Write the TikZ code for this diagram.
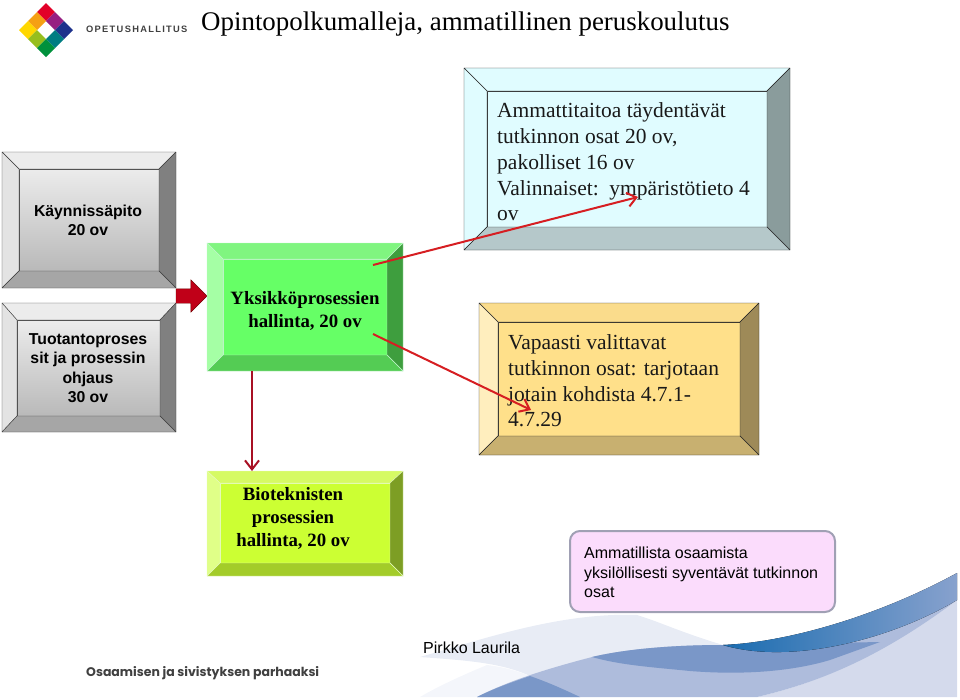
\documentclass[tikz,border=0pt]{standalone}
\usepackage{fontspec}
\setmainfont{Liberation Serif}
\setsansfont{Liberation Sans}
\newfontfamily\logofont[LetterSpace=14]{Liberation Sans}
\newfontfamily\iskufont{Poppins}
\usepackage{tikz}
\usetikzlibrary{arrows.meta,shapes.arrows}
\definecolor{punainen}{RGB}{214,30,34}
\definecolor{tummapun}{RGB}{168,16,36}
\definecolor{lohko}{RGB}{192,0,24}
\definecolor{aalto}{RGB}{122,151,200}
\definecolor{aaltotumma}{RGB}{26,108,176}
\definecolor{aaltovaalea}{RGB}{174,188,220}
\definecolor{aaltohaalea}{RGB}{212,218,236}
\definecolor{aaltopale}{RGB}{232,236,245}
\definecolor{aaltoutu}{RGB}{244,246,251}
\definecolor{vihsis}{RGB}{102,255,102}
\definecolor{vihyla}{RGB}{128,245,128}
\definecolor{vihvas}{RGB}{165,255,165}
\definecolor{vihoik}{RGB}{62,158,62}
\definecolor{vihala}{RGB}{84,204,84}
\definecolor{vihreuna}{RGB}{190,245,200}
\definecolor{limsis}{RGB}{204,255,51}
\definecolor{limyla}{RGB}{214,250,100}
\definecolor{limvas}{RGB}{224,255,136}
\definecolor{limoik}{RGB}{125,158,36}
\definecolor{limala}{RGB}{163,204,41}
\definecolor{limreuna}{RGB}{230,250,190}
\definecolor{syasis}{RGB}{224,252,255}
\definecolor{syaoik}{RGB}{138,156,156}
\definecolor{syaala}{RGB}{181,200,202}
\definecolor{kelsis}{RGB}{255,224,138}
\definecolor{kelyla}{RGB}{250,220,140}
\definecolor{kelvas}{RGB}{255,238,190}
\definecolor{keloik}{RGB}{158,138,88}
\definecolor{kelala}{RGB}{200,176,112}
\definecolor{omapohja}{RGB}{251,220,252}
\definecolor{omareuna}{RGB}{160,160,180}
\newcommand{\viisteet}[7]{
  \filldraw[draw=#7, fill=#3, line join=round] (#1.north west) -- (#1.north east) -- (#2.north east) -- (#2.north west) -- cycle;
  \filldraw[draw=#7, fill=#4, line join=round] (#1.north west) -- (#1.south west) -- (#2.south west) -- (#2.north west) -- cycle;
  \filldraw[draw=#7, fill=#5, line join=round] (#1.north east) -- (#1.south east) -- (#2.south east) -- (#2.north east) -- cycle;
  \filldraw[draw=#7, fill=#6, line join=round] (#1.south west) -- (#1.south east) -- (#2.south east) -- (#2.south west) -- cycle;
}
\begin{document}
\begin{tikzpicture}[x=1pt, y=-1pt,
  laatta/.style={rectangle, inner sep=0pt, outer sep=0pt},
  harmaa/.style={laatta, draw=black!75, line width=1pt, top color=gray!15, bottom color=gray!55},
  vihrea/.style={laatta, draw=vihreuna, line width=1pt, fill=vihsis},
  lime/.style={laatta, draw=limreuna, line width=1pt, fill=limsis},
  syaani/.style={laatta, draw=black!85, line width=1pt, fill=syasis},
  kelta/.style={laatta, draw=black!85, line width=1pt, fill=kelsis},
  otsikko/.style={font=\fontsize{26.9}{30}\selectfont, anchor=west, inner sep=0pt},
  arial/.style={font=\sffamily\bfseries\fontsize{15.8}{19.3}\selectfont, align=center, inner sep=0pt},
  times/.style={font=\bfseries\fontsize{18.8}{22.8}\selectfont, align=center, inner sep=0pt},
  leipa/.style={font=\fontsize{21.5}{25.7}\selectfont, align=left, anchor=west, inner sep=0pt, text=black!90},
  huomio/.style={rectangle, rounded corners=10pt, draw=omareuna, line width=2pt, fill=omapohja,
                 minimum width=265pt, minimum height=81pt},
  huomioteksti/.style={font=\sffamily\fontsize{16}{19.5}\selectfont, align=left, anchor=west, inner sep=0pt},
  nuoli/.style={-{Straight Barb[length=9pt,width=14pt]}, line width=2pt, color=punainen},
  nuolialas/.style={-{Straight Barb[length=9pt,width=14pt]}, line width=2pt, color=tummapun}]
  \useasboundingbox (0,0) rectangle (960,699);

  \fill[aaltopale] (420,657) .. controls (480,640) and (560,612) .. (637,615) .. controls (660,622) and (680,632) .. (723,645) -- (592,657) -- (530,676) .. controls (500,662) and (460,660) .. (420,657) -- cycle;
  \fill[aaltoutu] (420,697) .. controls (440,685) and (470,672) .. (487,665) .. controls (505,667) and (520,672) .. (530,676) -- (477,697) -- cycle;
  \fill[aaltohaalea] (757,697) .. controls (830,680) and (890,650) .. (957,590) -- (957,697) -- cycle;
  \fill[aaltovaalea] (477,697) .. controls (510,680) and (550,668) .. (592,657) .. controls (630,648) and (680,645) .. (723,645) .. controls (790,642) and (880,640) .. (957,600) .. controls (890,650) and (830,680) .. (757,697) -- cycle;
  \fill[aalto] (477,697) .. controls (495,688) and (510,683) .. (530,676) .. controls (550,683) and (565,690) .. (580,697) -- cycle;
  \fill[aalto] (592,657) .. controls (630,648) and (680,645) .. (723,645) -- (880,642) -- (830,660) .. controls (790,672) and (740,675) .. (690,671) .. controls (650,667) and (620,665) .. (592,657) -- cycle;
  \fill[left color=aaltotumma, right color=aalto!90!white, shading angle=90] (723,645) .. controls (790,642) and (880,615) .. (957,573) -- (957,600) .. controls (890,640) and (790,665) .. (723,645) -- cycle;

  \foreach \ruutu/\vari in {0/{rgb,255:red,226;green,0;blue,40}, 9/{rgb,255:red,150;green,30;blue,130}, 18/{rgb,255:red,30;green,50;blue,140}}
    \fill[fill=\vari] (46+\ruutu,3+\ruutu) -- (55+\ruutu,12+\ruutu) -- (46+\ruutu,21+\ruutu) -- (37+\ruutu,12+\ruutu) -- cycle;
  \foreach \ruutu/\vari in {0/{rgb,255:red,245;green,160;blue,20}, 18/{rgb,255:red,0;green,125;blue,130}}
    \fill[fill=\vari] (37+\ruutu,12+\ruutu) -- (46+\ruutu,21+\ruutu) -- (37+\ruutu,30+\ruutu) -- (28+\ruutu,21+\ruutu) -- cycle;
  \foreach \ruutu/\vari in {0/{rgb,255:red,255;green,215;blue,0}, 9/{rgb,255:red,150;green,190;blue,30}, 18/{rgb,255:red,0;green,145;blue,60}}
    \fill[fill=\vari] (28+\ruutu,21+\ruutu) -- (37+\ruutu,30+\ruutu) -- (28+\ruutu,39+\ruutu) -- (19+\ruutu,30+\ruutu) -- cycle;
  \node[anchor=west, inner sep=0pt, font=\logofont\bfseries\fontsize{9.3}{10}\selectfont, text=black!75] (virasto) at (86,29) {OPETUSHALLITUS};
  \node[anchor=west, inner sep=0pt, font=\iskufont\bfseries\fontsize{12.5}{14}\selectfont, text=black!75] (isku) at (86,673) {Osaamisen ja sivistyksen parhaaksi};
  \node[otsikko] (otsikko) at (201,24) {Opintopolkumalleja, ammatillinen peruskoulutus};

  \node[laatta, minimum width=174pt, minimum height=136pt] (kay) at (89,220) {};
  \node[harmaa, minimum width=140pt, minimum height=102pt] (kaysis) at (89,220) {};
  \viisteet{kay}{kaysis}{gray!15}{gray!22}{gray!100}{gray!70}{black!75}
  \node[arial] (kayteksti) at (88,220.5) {Käynnissäpito\\20 ov};

  \node[laatta, minimum width=174pt, minimum height=129pt] (tuo) at (89,367.5) {};
  \node[harmaa, minimum width=143pt, minimum height=96pt] (tuosis) at (88.5,368) {};
  \viisteet{tuo}{tuosis}{gray!15}{gray!22}{gray!100}{gray!70}{black!75}
  \node[arial] (tuoteksti) at (88,368) {Tuotantoproses\\sit ja prosessin\\ohjaus\\30 ov};

  \node[single arrow, fill=lohko, draw=red!45!black, inner xsep=0pt, inner ysep=7pt, outer sep=0pt, minimum height=31pt,
        single arrow head extend=9pt, single arrow head indent=0pt, anchor=tip] (siirto) at (207,296) {};

  \node[laatta, minimum width=196pt, minimum height=128pt] (yks) at (305,307) {};
  \node[vihrea, minimum width=164pt, minimum height=96pt] (yksis) at (305,307) {};
  \viisteet{yks}{yksis}{vihyla}{vihvas}{vihoik}{vihala}{vihreuna}
  \node[times] (yksteksti) at (305,311) {Yksikköprosessien\\hallinta, 20 ov};

  \node[laatta, minimum width=196pt, minimum height=105pt] (bio) at (305,523.5) {};
  \node[lime, minimum width=170pt, minimum height=80pt] (biosis) at (305,523) {};
  \viisteet{bio}{biosis}{limyla}{limvas}{limoik}{limala}{limreuna}
  \node[times] (bioteksti) at (293,518.5) {Bioteknisten\\prosessien\\hallinta, 20 ov};

  \node[laatta, minimum width=326pt, minimum height=182pt] (amm) at (627,159) {};
  \node[syaani, minimum width=280pt, minimum height=136pt] (ammsis) at (627,159) {};
  \viisteet{amm}{ammsis}{syasis}{syasis}{syaoik}{syaala}{black!85}
  \node[leipa] (ammteksti) at (497,162) {Ammattitaitoa täydentävät\\tutkinnon osat 20 ov,\\pakolliset 16 ov\\Valinnaiset:\ \ ympäristötieto 4\\ov};

  \node[laatta, minimum width=280pt, minimum height=152pt] (vap) at (619,379) {};
  \node[kelta, minimum width=242pt, minimum height=114pt] (vapsis) at (619,379) {};
  \viisteet{vap}{vapsis}{kelyla}{kelvas}{keloik}{kelala}{black!85}
  \node[leipa] (vapteksti) at (508,381) {Vapaasti valittavat\\tutkinnon osat: tarjotaan\\jotain kohdista 4.7.1-\\4.7.29};

  \node[huomio] (oma) at (702.5,571.5) {};
  \node[huomioteksti] (omateksti) at (584,572.5) {Ammatillista osaamista\\yksilöllisesti syventävät tutkinnon\\osat};
  \node[anchor=west, inner sep=0pt, font=\sffamily\fontsize{16}{19}\selectfont] (tekija) at (423,648) {Pirkko Laurila};

  \coordinate (ylaalku) at (373,265);
  \coordinate (ylaloppu) at (638,197);
  \coordinate (oikalku) at (373,334);
  \coordinate (oikloppu) at (531,410);
  \coordinate (alaalku) at (252,371);
  \draw[nuoli] (ylaalku) -- (ylaloppu);
  \draw[nuoli] (oikalku) -- (oikloppu);
  \draw[nuolialas] (alaalku) -- (alaalku |- bio.north);
\end{tikzpicture}
\end{document}
